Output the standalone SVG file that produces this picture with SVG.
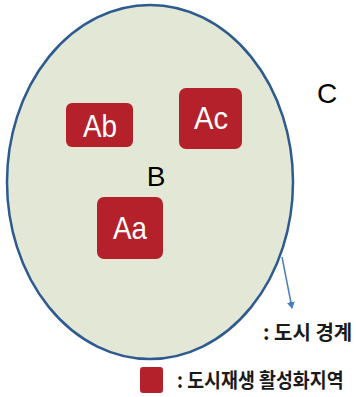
<svg xmlns="http://www.w3.org/2000/svg" width="356" height="397" viewBox="0 0 356 397">
<defs>
<style>
.zone{fill:#b5212b;}
.zt{fill:#ffffff;font-family:"Liberation Sans",Arial,sans-serif;font-size:32px;text-anchor:middle;}
.lbl{fill:#000000;font-family:"Liberation Sans",Arial,sans-serif;font-size:28px;text-anchor:middle;}
.kr{fill:#1a1a1a;font-family:"Noto Sans CJK KR","Noto Sans",sans-serif;font-size:20px;font-weight:bold;}
</style>
<marker id="ah" markerWidth="8" markerHeight="8" refX="6" refY="4" orient="auto" markerUnits="userSpaceOnUse">
<path d="M0,0 L7,4 L0,8 z" fill="#4a7ebb"/>
</marker>
</defs>
<rect width="356" height="397" fill="#ffffff"/>
<g id="city">
<ellipse cx="150" cy="182" rx="143" ry="177" fill="#e3e8d6" stroke="#2e5b8f" stroke-width="2.5"/>
</g>
<g id="B"><text class="lbl" x="156" y="186">B</text></g>
<g id="C"><text class="lbl" x="327" y="103">C</text></g>
<g id="Ab">
<rect class="zone" x="66" y="103" width="67" height="44" rx="6"/>
<text class="zt" x="100" y="137" textLength="34" lengthAdjust="spacingAndGlyphs">Ab</text>
</g>
<g id="Ac">
<rect class="zone" x="179" y="88" width="63" height="61" rx="7"/>
<text class="zt" x="211" y="129" textLength="34" lengthAdjust="spacingAndGlyphs">Ac</text>
</g>
<g id="Aa">
<rect class="zone" x="97" y="197" width="66" height="62" rx="7"/>
<text class="zt" x="130" y="239" textLength="34" lengthAdjust="spacingAndGlyphs">Aa</text>
</g>
<g id="connectors">
<line x1="282" y1="257" x2="292" y2="308" stroke="#4a7ebb" stroke-width="1.5" marker-end="url(#ah)"/>
</g>
<g id="legend-boundary">
<text class="kr" x="263" y="340">: 도시 경계</text>
</g>
<g id="legend-zone">
<rect class="zone" x="140" y="367" width="23" height="26" rx="3"/>
<text class="kr" transform="translate(177,388) scale(0.92,1)" x="0" y="0">: 도시재생 활성화지역</text>
</g>
</svg>
